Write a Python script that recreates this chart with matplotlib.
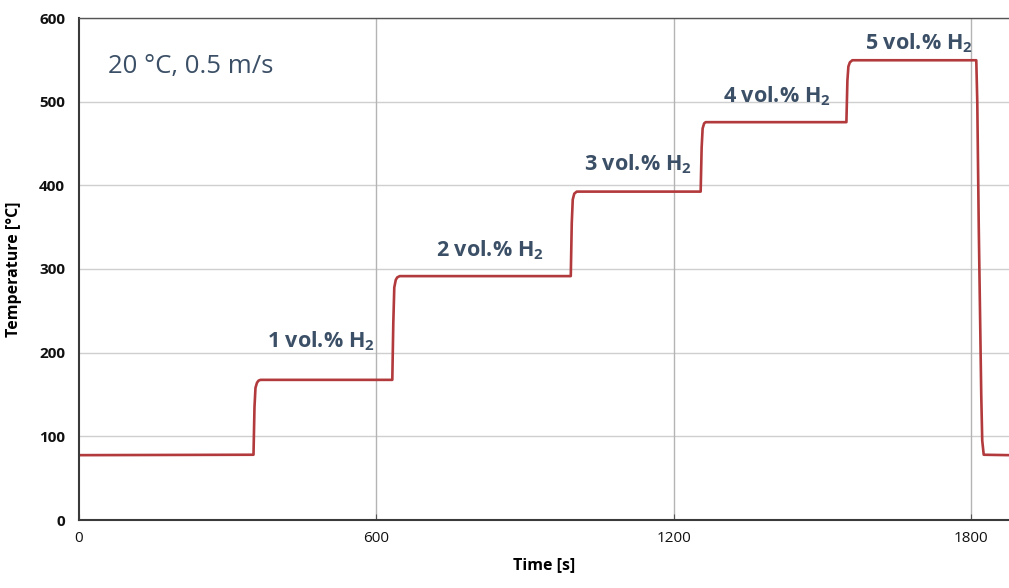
import matplotlib
matplotlib.use("Agg")
import matplotlib.pyplot as plt

plt.rcParams['font.family'] = ['Open Sans', 'DejaVu Sans']
plt.rcParams['mathtext.fontset'] = 'custom'
plt.rcParams['mathtext.rm'] = 'Open Sans'
plt.rcParams['mathtext.bf'] = 'Open Sans:bold'

# Temperature trace (time [s], temperature [°C])
time_s = [0, 352, 354, 356, 359, 362, 366, 632, 634, 636, 639, 642, 647,
          992, 994, 996, 999, 1004, 1254, 1256, 1258, 1261, 1264,
          1548, 1550, 1552, 1555, 1560, 1810, 1812, 1815, 1820, 1822, 1825, 1876]
temp_c = [77.5, 78, 135, 158, 164, 166.5, 167.5, 167.5, 235, 278, 287, 290, 291.5,
          291.5, 355, 383, 390, 392.5, 392.5, 445, 468, 474, 475.5,
          475.5, 525, 542, 547, 549.5, 549.5, 500, 350, 150, 95, 78, 77.5]

labels = ["1 vol.% H$_{\\mathbf{2}}$", "2 vol.% H$_{\\mathbf{2}}$", "3 vol.% H$_{\\mathbf{2}}$",
          "4 vol.% H$_{\\mathbf{2}}$", "5 vol.% H$_{\\mathbf{2}}$"]
label_x = [488, 829, 1127, 1408, 1694]
label_y = [214, 322, 425, 506, 570]

x_ticks = [0, 600, 1200, 1800]
y_ticks = [0, 100, 200, 300, 400, 500, 600]

fig = plt.figure(figsize=(10.09, 5.88), dpi=100)
ax = fig.add_axes([79/1009, 68/588, 930/1009, 502/588])

ax.plot(time_s, temp_c, color='#b23a3c', lw=1.9, solid_joinstyle='round')

ax.set_xlim(0, 1876)
ax.set_ylim(0, 600)
ax.set_xticks(x_ticks)
ax.set_yticks(y_ticks)

for yv in y_ticks[1:]:
    ax.axhline(yv, color='#cfcfcf', lw=1.0, zorder=0)
for xv in x_ticks[1:]:
    ax.axvline(xv, color='#b4b4b4', lw=1.0, zorder=0)

for s in ['left', 'bottom']:
    ax.spines[s].set_color('#3a3a3a')
    ax.spines[s].set_linewidth(1.5)
ax.spines['top'].set_color('#555555')
ax.spines['top'].set_linewidth(1.0)
ax.spines['right'].set_visible(False)

ax.tick_params(axis='y', length=0, pad=10, labelsize=11, labelcolor='#111111')
ax.tick_params(axis='x', direction='in', length=4, color='#555555', pad=8,
               labelsize=11, labelcolor='#111111')
for t in ax.get_yticklabels():
    t.set_fontweight('bold')

ax.set_xlabel('Time [s]', fontsize=11.5, fontweight='bold', labelpad=8)
ax.set_ylabel('Temperature [°C]', fontsize=11.5, fontweight='bold', labelpad=12)

ax.text(58, 542, '20 °C, 0.5 m/s', fontsize=18.5, color='#3b4f66', ha='left', va='center')

for lab, lx, ly in zip(labels, label_x, label_y):
    ax.text(lx, ly, lab, fontsize=15.5, fontweight='bold', color='#3b4f66',
            ha='center', va='center')

fig.savefig('out.png', dpi=100)
